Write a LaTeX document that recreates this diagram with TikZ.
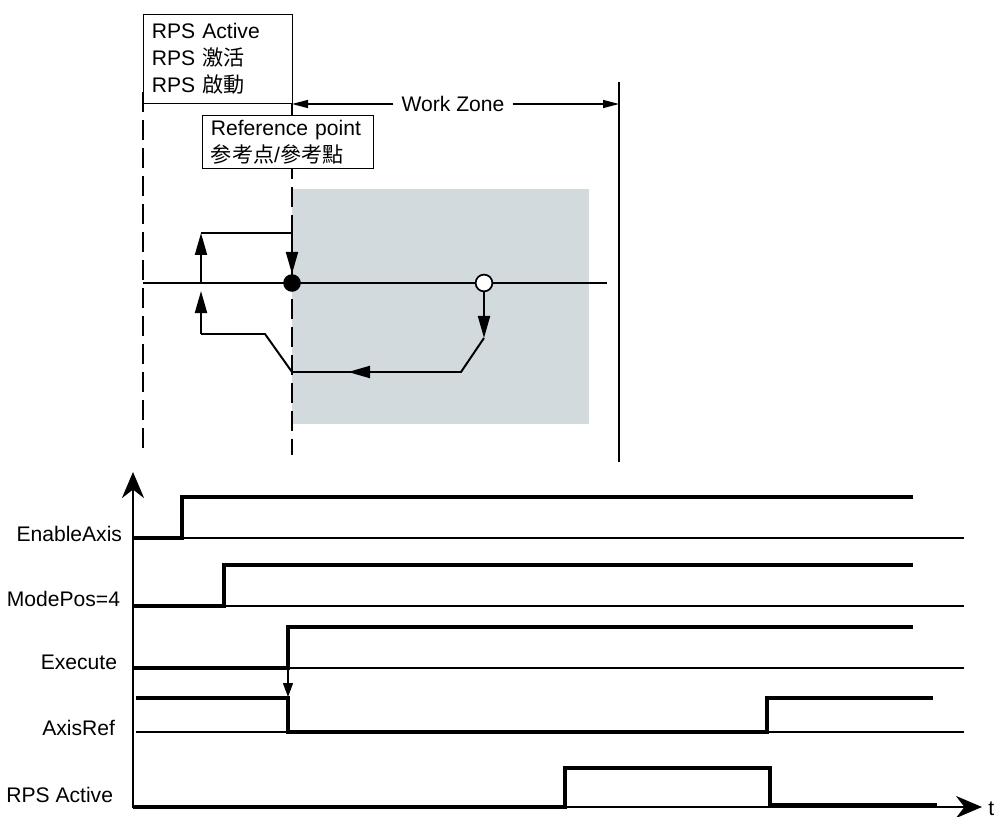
\documentclass[tikz,border=0pt]{standalone}
\usepackage{fontspec}
\setmainfont{Liberation Sans}
\newfontfamily\cjkfont{Noto Sans CJK SC}
\usetikzlibrary{arrows.meta,positioning}
\definecolor{zonegray}{RGB}{211,218,221}

\begin{document}
\begin{tikzpicture}[x=0.25mm, y=-0.25mm,
    wire/.style={line width=1.4pt, line join=miter},
    dashline/.style={line width=1pt, dash pattern=on 5mm off 2mm},
    sigline/.style={line width=2.2pt, line join=miter},
    zeroline/.style={line width=1.1pt},
    labelbox/.style={draw, fill=white, line width=0.6pt, align=left, anchor=north west,
        inner xsep=2mm, inner ysep=0pt, font=\fontsize{15}{19}\selectfont},
    siglabel/.style={anchor=base east, font=\fontsize{15}{18}\selectfont},
    flowarrow/.style={-{Triangle[length=5.5mm, width=3mm]}},
    zonearrow/.style={line width=1pt, -{Triangle[length=4mm, width=2mm]}},
    every node/.style={font=\fontsize{15}{18}\selectfont}
]
\useasboundingbox (0,0) rectangle (1002,817);

% work zone
\fill[zonegray] (292,189) rectangle (589,424);
\draw[dashline] (143,92) -- (143,455);
\draw[dashline] (292,103) -- (292,455);
\draw[line width=1.3pt] (619,82) -- (619,462);

\node[labelbox, minimum width=37.25mm, minimum height=22.25mm, text width=33mm]
    (rpsbox) at (143,14) {RPS Active\\RPS {\cjkfont 激活}\\RPS {\cjkfont 啟動}};
\node[labelbox, minimum width=42.75mm, minimum height=13.25mm, text width=38.5mm]
    (refbox) at (202,115) {Reference point\\{\cjkfont 参考点}/{\cjkfont 參考點}};

\node[inner xsep=2mm] (wz) at (453,104) {Work Zone};
\coordinate (wzleft) at (292,104);
\coordinate (wzright) at (619,104);
\draw[zonearrow] (wz.west) -- (wzleft);
\draw[zonearrow] (wz.east) -- (wzright);

% motion
\draw[wire] (143,283) -- (607,283);
\node[circle, fill, minimum size=4.4mm, inner sep=0pt] (refpt) at (292,283) {};
\node[circle, draw, fill=white, line width=1.2pt, minimum size=4.2mm, inner sep=0pt] (startpt) at (484,283) {};

\draw[wire, flowarrow] (201,283) -- (201,233);
\draw[wire] (201,233) -- (292,233);
\draw[wire, flowarrow] (292,233) -- (refpt.north);

\draw[wire, flowarrow] (startpt.south) -- (484,338);
\draw[wire] (484,338) -- (461,372) -- (348,372);
\draw[wire, flowarrow] (372,372) -- (348,372);
\draw[wire] (348,372) -- (292,372) -- (265,334) -- (201,334);
\draw[wire, flowarrow] (201,334) -- (201,291);

% timing
\coordinate (origin) at (133,807);
\draw[line width=2pt, {Stealth[length=6.5mm, width=5.5mm]}-{Stealth[length=6.5mm, width=5.5mm]}]
    (133,472) -- (origin) -- (982,807);
\node[anchor=west, inner sep=0pt] (t) at (988,809) {t};

\draw[zeroline] (133,538) -- (964,538);
\draw[zeroline] (133,606) -- (964,606);
\draw[zeroline] (133,668) -- (964,668);
\draw[zeroline] (136,732) -- (964,732);

\node[siglabel] (enable) at (127,541) {EnableAxis};
\node[siglabel] (modepos) at (125,606) {ModePos=4};
\node[siglabel] (execute) at (122,669) {Execute};
\node[siglabel] (axisref) at (120,735) {AxisRef};
\node[siglabel] (rpsact) at (118,802) {RPS Active};

\draw[sigline] (133,538) -| (182,497) -- (913,497);
\draw[sigline] (133,606) -| (224,565) -- (913,565);
\draw[sigline] (133,668) -| (288,627) -- (913,627);
\draw[sigline] (136,698) -| (288,732) -| (767,698) -- (933,698);
\draw[sigline] (133,807) -| (565,768) -| (770,805) -- (937,805);

\draw[line width=1pt, -{Triangle[length=3.5mm, width=2.5mm]}] (288,668) -- (288,697);
\end{tikzpicture}
\end{document}
